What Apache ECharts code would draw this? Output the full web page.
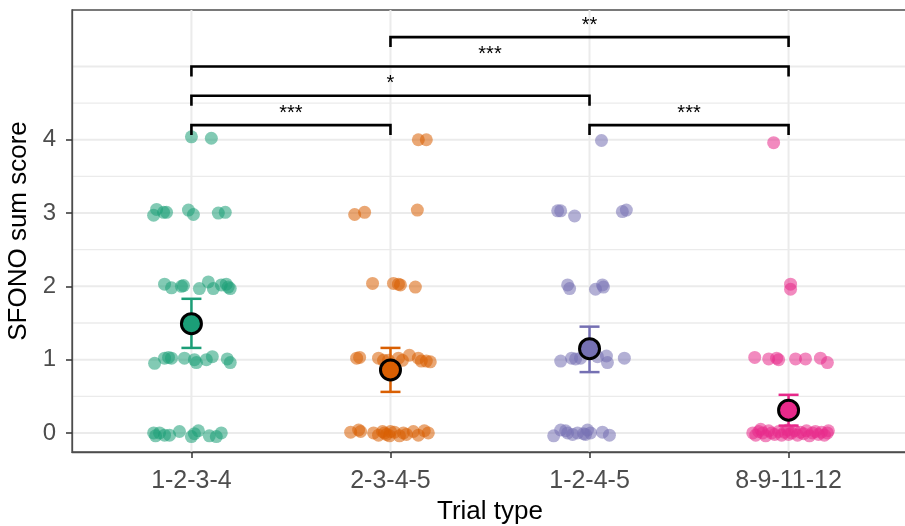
<!DOCTYPE html>
<html>
<head>
<meta charset="utf-8">
<script src="https://cdn.jsdelivr.net/npm/echarts@6/dist/echarts.min.js"></script>
<style>
  html, body { margin: 0; padding: 0; background: #fff; }
  #chart { width: 905px; height: 526px; }
</style>
</head>
<body>
<div id="chart"></div>
<script>
// 试验类型
var categories = ['1-2-3-4', '2-3-4-5', '1-2-4-5', '8-9-11-12'];
var colors = ['#1B9E77', '#D95F02', '#7570B3', '#E7298A'];

// 每组散点: [水平抖动, 得分]
var pts1 = [
  [0.00, 4.04], [0.10, 4.02],
  [-0.19, 2.97], [-0.175, 3.05], [-0.14, 3.01], [-0.125, 3.01], [-0.015, 3.04], [0.01, 2.98], [0.135, 3.0], [0.17, 3.01],
  [-0.135, 2.03], [-0.10, 1.98], [-0.05, 2.0], [-0.04, 2.01], [0.04, 1.97], [0.085, 2.06], [0.11, 1.97], [0.15, 2.02], [0.175, 2.03], [0.185, 1.99], [0.195, 1.97],
  [-0.185, 0.95], [-0.135, 1.02], [-0.115, 1.03], [-0.10, 1.02], [-0.035, 1.02], [0.015, 1.0], [0.025, 0.96], [0.075, 1.0], [0.105, 1.04], [0.18, 1.01], [0.195, 0.96],
  [-0.19, 0.0], [-0.18, -0.04], [-0.16, 0.0], [-0.135, -0.03], [-0.11, -0.03], [-0.06, 0.02], [0.0, -0.05], [0.015, -0.01], [0.035, 0.03], [0.09, -0.04], [0.125, -0.05], [0.15, 0.0]
];
var pts2 = [
  [0.14, 4.0], [0.18, 4.0],
  [-0.18, 2.98], [-0.13, 3.01], [0.135, 3.04],
  [-0.09, 2.04], [0.015, 2.04], [0.04, 2.03], [0.05, 2.02], [0.125, 1.99],
  [-0.17, 1.02], [-0.155, 1.03], [-0.06, 1.02], [-0.035, 0.99], [-0.01, 0.99], [0.04, 1.02], [0.06, 0.99], [0.095, 1.06], [0.14, 1.02], [0.155, 0.98], [0.18, 0.98], [0.2, 0.97],
  [-0.2, 0.01], [-0.15, 0.02], [-0.085, 0.0], [-0.06, -0.03], [-0.04, 0.02], [-0.02, -0.02], [-0.005, -0.04], [0.02, 0.01], [0.045, -0.04], [0.065, 0.0],
  [0.115, 0.02], [0.14, -0.03], [0.17, 0.03], [0.19, 0.0], [-0.16, 0.04], [-0.03, 0.0], [0.08, -0.02], [0.0, 0.02]
];
var pts3 = [
  [0.06, 3.99],
  [-0.16, 3.03], [-0.145, 3.03], [-0.075, 2.96], [0.165, 3.02], [0.185, 3.04],
  [-0.11, 2.02], [-0.10, 1.97], [0.03, 1.96], [0.065, 2.02], [0.07, 1.99],
  [-0.145, 0.98], [-0.09, 1.02], [-0.07, 1.01], [-0.045, 1.02], [0.04, 1.04], [0.085, 1.05], [0.09, 0.96], [0.175, 1.02],
  [-0.18, -0.04], [-0.145, 0.04], [-0.11, 0.0], [-0.085, -0.02], [-0.06, 0.0], [-0.03, -0.01], [-0.01, 0.04], [0.005, 0.0], [0.065, 0.01], [0.1, -0.03], [-0.02, -0.02], [-0.12, 0.03]
];
var pts4 = [
  [-0.075, 3.96],
  [0.01, 2.03], [0.01, 1.96],
  [-0.17, 1.03], [-0.1, 1.01], [-0.05, 1.0], [-0.06, 1.02], [0.035, 1.01], [0.085, 1.01], [0.16, 1.02], [0.195, 0.96],
  [-0.18, 0.0], [-0.165, -0.03], [-0.15, 0.02], [-0.13, 0.0], [-0.115, -0.04], [-0.1, 0.03], [-0.085, 0.0], [-0.07, -0.02], [-0.05, 0.02], [-0.035, -0.03],
  [-0.02, 0.01], [-0.005, 0.04], [0.0, -0.02], [0.015, 0.0], [0.03, 0.03], [0.045, -0.03], [0.06, 0.01], [0.075, -0.01], [0.09, 0.03], [0.105, -0.04],
  [0.12, 0.0], [0.135, 0.02], [0.15, -0.02], [0.165, 0.01], [0.18, -0.03], [0.195, 0.0], [0.2, 0.03], [-0.14, 0.05]
];

// 均值与误差线
var means = [1.49, 0.86, 1.15, 0.31];
var lowers = [1.16, 0.56, 0.83, 0.10];
var uppers = [1.83, 1.16, 1.45, 0.52];

// 显著性标记: [起, 止, 高度, 文本]
var sigFrom = [1, 1, 1, 2, 3];
var sigTo = [2, 3, 4, 4, 4];
var sigHeight = [4.2, 4.6, 5.0, 5.4, 4.2];
var sigLabel = ['***', '*', '***', '**', '***'];

var yTicks = [0, 1, 2, 3, 4];
var yMajorGrid = [0, 1, 2, 3, 4, 5];
var yMinorGrid = [0.5, 1.5, 2.5, 3.5, 4.5];

var FONT = 'Liberation Sans, Arial, sans-serif';

var chart = echarts.init(document.getElementById('chart'), null, { renderer: 'canvas' });

function hGrid(width) {
  return function (params, api) {
    var cs = params.coordSys;
    var y = api.coord([1, api.value(1)])[1];
    return {
      type: 'line',
      shape: { x1: cs.x, y1: y, x2: cs.x + cs.width, y2: y },
      style: { stroke: '#EBEBEB', lineWidth: width }
    };
  };
}

var series = [
  {
    type: 'custom', silent: true, z: 0,
    data: yMinorGrid.map(function (v) { return [1, v]; }),
    renderItem: hGrid(1.3)
  },
  {
    type: 'custom', silent: true, z: 0,
    data: yMajorGrid.map(function (v) { return [1, v]; }),
    renderItem: hGrid(2)
  },
  {
    type: 'custom', silent: true, z: 0,
    data: categories.map(function (c, i) { return [i + 1, 0]; }),
    renderItem: function (params, api) {
      var cs = params.coordSys;
      var x = api.coord([api.value(0), 0])[0];
      return {
        type: 'line',
        shape: { x1: x, y1: cs.y, x2: x, y2: cs.y + cs.height },
        style: { stroke: '#EBEBEB', lineWidth: 2 }
      };
    }
  }
];

[pts1, pts2, pts3, pts4].forEach(function (pts, i) {
  series.push({
    type: 'scatter',
    z: 2,
    symbolSize: 13,
    itemStyle: { color: colors[i], opacity: 0.55 },
    data: pts.map(function (p) { return [i + 1 + p[0], p[1]]; })
  });
});

series.push({
  type: 'custom', z: 3, silent: true,
  data: means.map(function (m, i) { return [i + 1, lowers[i], uppers[i]]; }),
  renderItem: function (params, api) {
    var x = api.value(0);
    var lo = api.coord([x, api.value(1)]);
    var hi = api.coord([x, api.value(2)]);
    var c = colors[params.dataIndex];
    var st = { stroke: c, lineWidth: 2.5 };
    return {
      type: 'group',
      children: [
        { type: 'line', shape: { x1: lo[0], y1: lo[1], x2: hi[0], y2: hi[1] }, style: st },
        { type: 'line', shape: { x1: lo[0] - 10, y1: lo[1], x2: lo[0] + 10, y2: lo[1] }, style: st },
        { type: 'line', shape: { x1: hi[0] - 10, y1: hi[1], x2: hi[0] + 10, y2: hi[1] }, style: st }
      ]
    };
  }
});

series.push({
  type: 'scatter', z: 4,
  symbolSize: 20,
  data: means.map(function (m, i) {
    return { value: [i + 1, m], itemStyle: { color: colors[i] } };
  }),
  itemStyle: { borderColor: '#000', borderWidth: 3, opacity: 1 }
});

series.push({
  type: 'custom', z: 5, silent: true,
  data: sigFrom.map(function (f, i) { return [f, sigTo[i], sigHeight[i]]; }),
  renderItem: function (params, api) {
    var a = api.coord([api.value(0), api.value(2)]);
    var b = api.coord([api.value(1), api.value(2)]);
    var leg = 10;
    return {
      type: 'group',
      children: [
        {
          type: 'polyline',
          shape: { points: [[a[0], a[1] + leg], [a[0], a[1]], [b[0], b[1]], [b[0], b[1] + leg]] },
          style: { stroke: '#000', lineWidth: 2.6, fill: null }
        },
        {
          type: 'text',
          x: (a[0] + b[0]) / 2, y: a[1] - 12,
          style: {
            text: sigLabel[params.dataIndex], fill: '#000',
            font: '20px ' + FONT, align: 'center', verticalAlign: 'middle'
          }
        }
      ]
    };
  }
});

var option = {
  animation: false,
  grid: {
    left: 72, right: -3, top: 10, bottom: 74,
    outerBoundsMode: 'none',
    show: true, borderColor: '#4D4D4D', borderWidth: 1.3
  },
  xAxis: {
    type: 'value', min: 0.4, max: 4.6,
    name: 'Trial type', nameLocation: 'middle', nameGap: 46,
    nameTextStyle: { color: '#000', fontSize: 26, fontFamily: FONT },
    axisLine: { show: true, onZero: false, lineStyle: { color: '#4D4D4D', width: 1.3 } },
    axisTick: { show: true, customValues: [1, 2, 3, 4], length: 6, lineStyle: { color: '#333', width: 1.5 } },
    axisLabel: {
      customValues: [1, 2, 3, 4], margin: 17,
      color: '#4D4D4D', fontSize: 25, fontFamily: FONT,
      formatter: function (v) { return categories[Math.round(v) - 1]; }
    },
    splitLine: { show: false }
  },
  yAxis: {
    type: 'value', min: -0.26, max: 5.77,
    name: 'SFONO sum score', nameLocation: 'middle', nameGap: 38, nameRotate: 90,
    nameTextStyle: { color: '#000', fontSize: 26, fontFamily: FONT },
    axisLine: { show: true, onZero: false, lineStyle: { color: '#4D4D4D', width: 1.3 } },
    axisTick: { show: true, customValues: yTicks, length: 6, lineStyle: { color: '#333', width: 1.5 } },
    axisLabel: {
      customValues: yTicks, margin: 16,
      color: '#4D4D4D', fontSize: 24, fontFamily: FONT
    },
    splitLine: { show: false }
  },
  series: series
};

chart.setOption(option);
</script>
</body>
</html>
